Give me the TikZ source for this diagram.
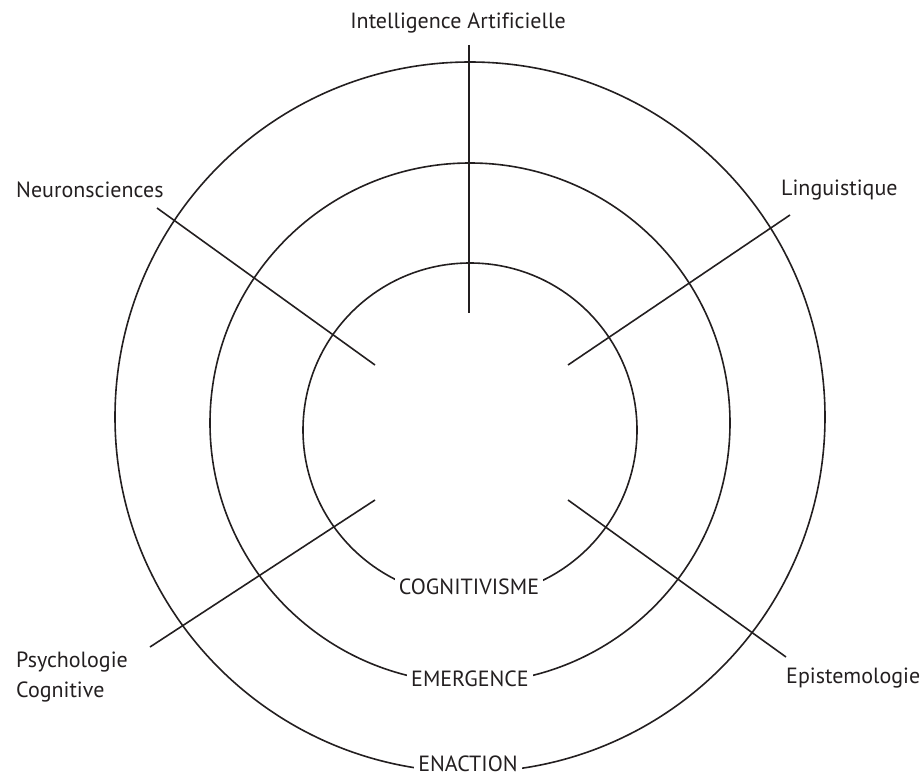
\documentclass[tikz,border=0pt]{standalone}
\usepackage{fontspec}
\setmainfont{PT Sans}[Ligatures=NoCommon]
\definecolor{ink}{HTML}{231F20}
\begin{document}
\begin{tikzpicture}[x=1pt,y=-1pt,
  ring/.style={line width=1.6pt, draw=ink},
  spoke/.style={line width=1.6pt, draw=ink},
  field/.style={font=\fontsize{22}{30}\selectfont, text=ink, inner sep=0pt},
  ringlabel/.style={field, fill=white, inner xsep=4pt, inner ysep=7pt}]
\useasboundingbox (0,0) rectangle (924,776);

% three concentric rings
\draw[ring] (470,417) circle[radius=355];
\draw[ring] (470,423) circle[radius=260];
\draw[ring] (470,430) circle[radius=167];

% discipline labels
\node[field, anchor=center] (ia) at (458,23) {Intelligence Artificielle};
\node[field, anchor=west] (neuro) at (16,190) {Neuronsciences};
\node[field, anchor=west] (ling) at (781,190) {Linguistique};
\node[field, anchor=west, align=left] (psy) at (16,677) {Psychologie\\Cognitive};
\node[field, anchor=west] (epi) at (786,678) {Epistemologie};

% spoke ends
\coordinate (iaA) at (469,45);   \coordinate (iaB) at (469,313);
\coordinate (neA) at (157,208);  \coordinate (neB) at (375,365);
\coordinate (liA) at (790,215);  \coordinate (liB) at (568,365);
\coordinate (psA) at (150,647);  \coordinate (psB) at (375,500);
\coordinate (epA) at (786,657);  \coordinate (epB) at (568,500);

\draw[spoke] (iaA) -- (iaB);
\draw[spoke] (neA) -- (neB);
\draw[spoke] (liA) -- (liB);
\draw[spoke] (psA) -- (psB);
\draw[spoke] (epA) -- (epB);

% ring labels
\node[ringlabel] (cog) at (469,587) {COGNITIVISME};
\node[ringlabel] (emg) at (470,679) {EMERGENCE};
\node[ringlabel] (ena) at (468,764) {ENACTION};
\end{tikzpicture}
\end{document}
